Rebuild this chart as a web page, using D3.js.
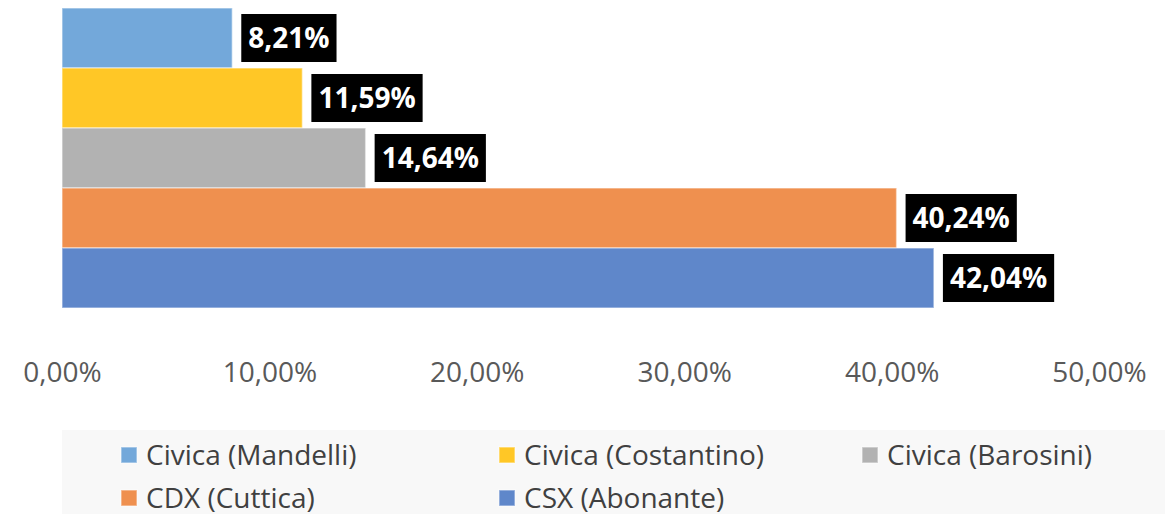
<!DOCTYPE html>
<html>
<head>
<meta charset="utf-8">
<script src="https://cdn.jsdelivr.net/npm/d3@7"></script>
<style>
  body { margin: 0; background: #fff; }
  svg { display: block; font-family: "Open Sans", sans-serif; }
</style>
</head>
<body>
<div id="main"></div>
<script>
// dati
const categories = ["Civica (Mandelli)", "Civica (Costantino)", "Civica (Barosini)", "CDX (Cuttica)", "CSX (Abonante)"];
const values = [8.21, 11.59, 14.64, 40.24, 42.04];
const colors = ["#73a8da", "#ffc726", "#b2b2b2", "#ef904f", "#5f87ca"];
const ticks = [0, 10, 20, 30, 40, 50];

const width = 1165, height = 514;

const svg = d3.select("#main")
  .append("svg")
    .attr("width", width)
    .attr("height", height);

const fmt = v => v.toFixed(2).replace(".", ",") + "%";

const x = d3.scaleLinear().domain([0, 50]).range([62, 1099]);
const y = d3.scaleBand().domain(categories).range([8, 308]).padding(0);

// barre
svg.selectAll(".bar")
  .data(categories)
  .join("rect")
    .attr("class", "bar")
    .attr("x", x(0))
    .attr("y", d => y(d))
    .attr("width", (d, i) => x(values[i]) - x(0))
    .attr("height", y.bandwidth())
    .attr("fill", (d, i) => colors[i])
    .attr("stroke", "rgba(255,255,255,0.45)")
    .attr("stroke-width", 1.5);

// etichette con sfondo nero
const lab = svg.selectAll(".lab")
  .data(categories)
  .join("g")
    .attr("class", "lab")
    .attr("transform", (d, i) => `translate(${x(values[i]) + 9},${y(d) + y.bandwidth() / 2})`);

lab.append("rect")
  .attr("fill", "#000")
  .attr("y", -24)
  .attr("height", 48);

lab.append("text")
  .attr("fill", "#fff")
  .attr("font-weight", "bold")
  .attr("font-size", 28)
  .attr("dy", "0.36em")
  .attr("x", 7)
  .text((d, i) => fmt(values[i]));

lab.each(function() {
  const g = d3.select(this);
  const w = g.select("text").node().getComputedTextLength();
  g.select("rect").attr("width", w + 14);
});

// asse x (solo etichette)
const xAxis = d3.axisBottom(x).tickValues(ticks).tickFormat(fmt).tickSize(0).tickPadding(0);
const ax = svg.append("g")
  .attr("transform", "translate(0,361)")
  .call(xAxis);
ax.select(".domain").remove();
ax.selectAll("text")
  .attr("fill", "#595959")
  .attr("font-size", 28)
  .attr("font-family", "Open Sans, sans-serif")
  .attr("dy", "0.75em");

// legenda
svg.append("rect")
  .attr("x", 62)
  .attr("y", 430)
  .attr("width", width - 62)
  .attr("height", height - 430)
  .attr("fill", "#f8f8f8");

const legX = [121, 499, 862];
const legY = [455, 498];

const leg = svg.selectAll(".leg")
  .data(categories)
  .join("g")
    .attr("class", "leg")
    .attr("transform", (d, i) => `translate(${legX[i % 3]},${legY[Math.floor(i / 3)]})`);

leg.append("rect")
  .attr("x", 0)
  .attr("y", -8)
  .attr("width", 16)
  .attr("height", 16)
  .attr("fill", (d, i) => colors[i])
  .attr("stroke", "rgba(255,255,255,0.45)")
  .attr("stroke-width", 1.5);

leg.append("text")
  .attr("x", 25)
  .attr("dy", "0.36em")
  .attr("font-size", 28)
  .attr("fill", "#404040")
  .text(d => d);
</script>
</body>
</html>
